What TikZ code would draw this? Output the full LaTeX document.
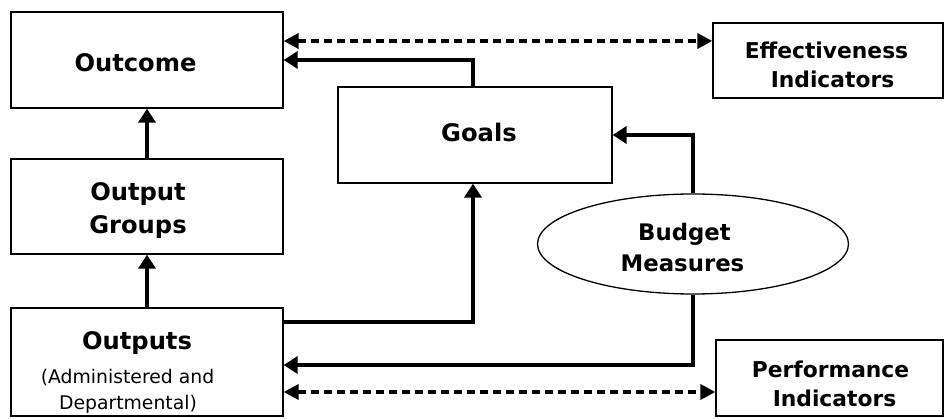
\documentclass[tikz,border=0pt]{standalone}
\usepackage{fontspec}
\setmainfont{DejaVu Sans}
\usetikzlibrary{arrows.meta,shapes.geometric}
\tikzset{
  box/.style={draw, line width=1.3pt, inner sep=0pt},
  oval/.style={ellipse, draw, line width=1.3pt, inner sep=0pt},
  arr/.style={line width=4pt, -{Triangle[length=14pt,width=17pt]}},
  darr/.style={line width=3.5pt, dash pattern=on 8pt off 5pt, {Triangle[length=15pt,width=15pt]}-{Triangle[length=15pt,width=15pt]}},
  big/.style={anchor=base, inner sep=0pt, font=\fontsize{24.2}{28}\selectfont\bfseries},
  mid/.style={anchor=base, inner sep=0pt, font=\fontsize{22.8}{26}\selectfont\bfseries},
  sml/.style={anchor=base, inner sep=0pt, font=\fontsize{21.8}{25}\selectfont\bfseries},
  reg/.style={anchor=base, inner sep=0pt, font=\fontsize{18.8}{22}\selectfont},
}
\begin{document}
\begin{tikzpicture}[x=1pt,y=-1pt]
\useasboundingbox[fill=white] (0,0) rectangle (944,419);
% boxes
\node[box, minimum width=272pt, minimum height=96pt] (outcome) at (147,60) {};
\node[box, minimum width=272pt, minimum height=95pt] (groups) at (147,206.5) {};
\node[box, minimum width=272pt, minimum height=108pt] (outputs) at (147,362) {};
\node[box, minimum width=274pt, minimum height=96pt] (goals) at (475,135) {};
\node[box, minimum width=230pt, minimum height=75pt] (eff) at (828,60.5) {};
\node[box, minimum width=227pt, minimum height=76pt] (perf) at (829.5,378) {};
\node[oval, minimum width=311pt, minimum height=100pt] (budget) at (693,244) {};
% texts
\node[big] (tOutcome) at (135.5,72) {Outcome};
\node[big] (tGoals) at (479,142) {Goals};
\node[big] (tOutput) at (138,201) {Output};
\node[big] (tGroups) at (138,234) {Groups};
\node[big] (tOutputs) at (137,349) {Outputs};
\node[reg] (tAdm) at (127.5,383) {(Administered and};
\node[reg] (tDep) at (128,409) {Departmental)};
\node[mid] (tBudget) at (684.5,241) {Budget};
\node[mid] (tMeasures) at (682.5,272) {Measures};
\node[sml] (tEff) at (826.5,59) {Effectiveness};
\node[sml] (tInd1) at (832.5,88) {Indicators};
\node[sml] (tPerf) at (830.5,377) {Performance};
\node[sml] (tInd2) at (834.5,406) {Indicators};
% connectors
\draw[darr] (outcome.east |- 0,41) -- (eff.west |- 0,41);
\draw[arr] ([xshift=-2pt]goals.north) |- (outcome.east);
\draw[arr] (groups.north) -- (outcome.south);
\draw[arr] (outputs.north) -- (groups.south);
\draw[arr] (outputs.east |- 0,322) -| ([xshift=-2pt]goals.south);
\draw[arr] (budget.north) |- (goals.east);
\draw[arr] (budget.south) |- (outputs.east |- 0,365);
\draw[darr] (outputs.east |- 0,392) -- (perf.west |- 0,392);
\end{tikzpicture}
\end{document}
